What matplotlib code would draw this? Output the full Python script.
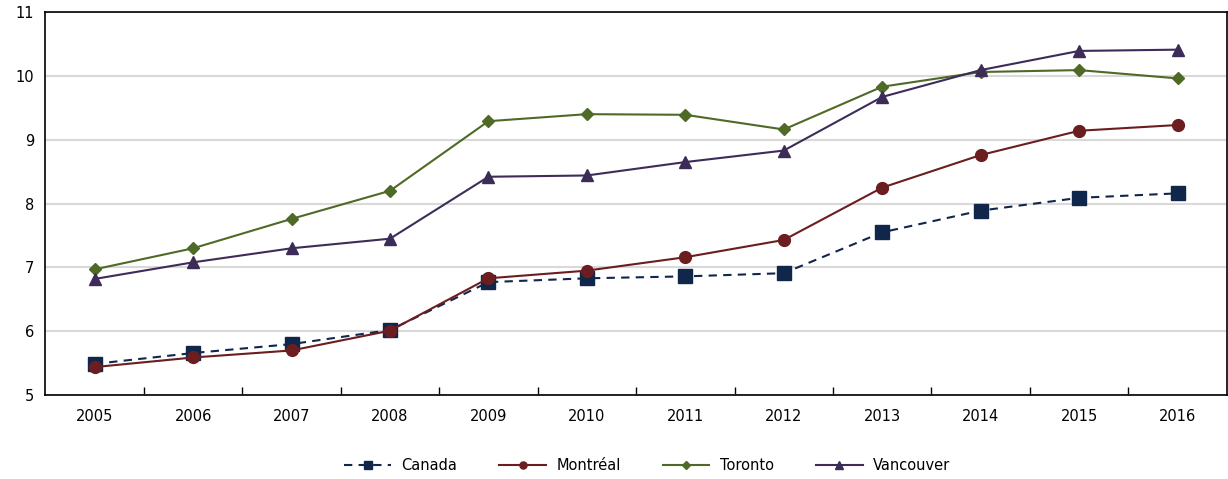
import matplotlib.pyplot as plt

years = ["2005", "2006", "2007", "2008", "2009", "2010",
         "2011", "2012", "2013", "2014", "2015", "2016"]

canada = [5.49, 5.66, 5.80, 6.02, 6.77, 6.83, 6.86, 6.91, 7.55, 7.89, 8.09, 8.16]
montreal = [5.44, 5.59, 5.70, 6.01, 6.83, 6.95, 7.16, 7.43, 8.25, 8.76, 9.14, 9.23]
toronto = [6.97, 7.30, 7.76, 8.20, 9.29, 9.40, 9.39, 9.16, 9.83, 10.06, 10.09, 9.96]
vancouver = [6.82, 7.08, 7.30, 7.45, 8.42, 8.44, 8.65, 8.83, 9.67, 10.09, 10.39, 10.41]

plt.rcParams['font.family'] = ['DejaVu Sans']

fig = plt.figure(figsize=(12.28, 4.79), dpi=100)
ax = fig.add_axes([0.037, 0.175, 0.962, 0.80])

x = range(len(years))
ax.plot(x, canada, color="#10264a", ls=(0, (4, 3)), lw=1.5,
        marker="s", ms=9.5, label="Canada", zorder=3)
ax.plot(x, montreal, color="#6b1d1f", lw=1.5,
        marker="o", ms=8.5, label="Montréal", zorder=4)
ax.plot(x, toronto, color="#4f6a26", lw=1.5,
        marker="D", ms=6.5, label="Toronto", zorder=3)
ax.plot(x, vancouver, color="#3d2c58", lw=1.5,
        marker="^", ms=9, label="Vancouver", zorder=3)

ax.set_xlim(-0.5, len(years) - 0.5)
ax.set_ylim(5, 11)
ax.set_yticks(range(5, 12))
ax.set_xticks(list(x))
ax.set_xticklabels(years)
ax.set_xticks([i + 0.5 for i in range(len(years) - 1)], minor=True)
ax.tick_params(axis="x", which="major", length=0, labelsize=10.5, pad=10)
ax.tick_params(axis="x", which="minor", direction="in", length=6, width=1)
ax.tick_params(axis="y", length=0, labelsize=10.5, pad=8)

ax.grid(axis="y", color="#d9d9d9", lw=1.5)
ax.set_axisbelow(True)
for s in ax.spines.values():
    s.set_linewidth(1.2)

fig.legend(loc="center", bbox_to_anchor=(0.527, 0.029), ncol=4, frameon=False,
           fontsize=10.5, handlelength=3.2, handletextpad=0.7,
           columnspacing=2.9, markerscale=0.6)

fig.savefig("out.png", dpi=100)
